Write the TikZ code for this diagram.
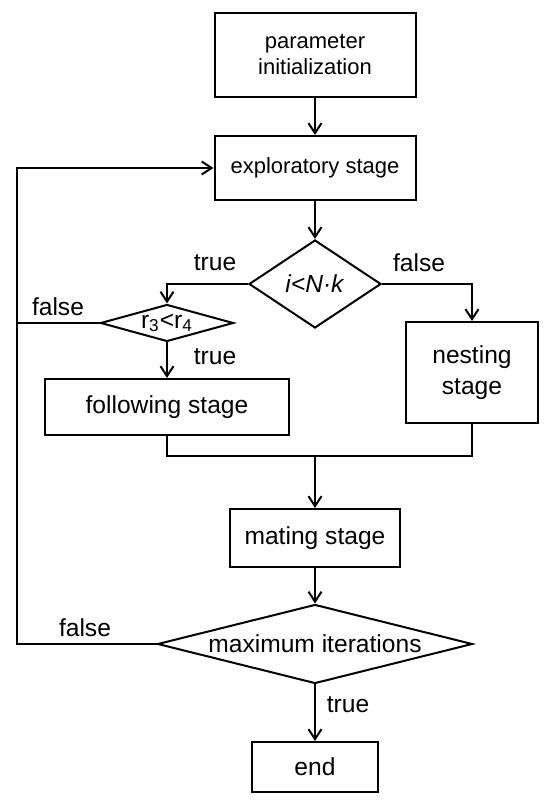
\documentclass[tikz,border=0pt]{standalone}
\usepackage{fontspec}
\setmainfont{Liberation Sans}
\usetikzlibrary{arrows.meta,shapes.geometric,calc}

\tikzset{
  stagebox/.style={draw,line width=1pt,inner sep=0pt,align=center},
  decision/.style={draw,diamond,line width=1pt,inner sep=0pt},
  flow/.style={line width=1pt},
  arr/.style={flow,-{Straight Barb[length=5pt,width=6.5pt]}},
}

\begin{document}
\begin{tikzpicture}[x=0.5pt,y=0.5pt,every node/.style={font=\fontsize{12.3}{15.5}\selectfont}]
\useasboundingbox (0,0) rectangle (550,804);
% stages
\node[stagebox,minimum width=100.5pt,minimum height=42pt,font=\fontsize{11}{13}\selectfont] (init) at (315,749) {parameter\\initialization};
\node[stagebox,minimum width=100.5pt,minimum height=32pt,font=\fontsize{11}{13}\selectfont] (explore) at (315,636) {exploratory stage};
\node[decision,minimum width=66pt,minimum height=44pt,label={[name=d1txt]center:\textit{i<N·k}}] (d1) at (315,520) {};
\node[decision,minimum width=66.5pt,minimum height=18.5pt,label={[name=d2txt]center:r\textsubscript{3}<r\textsubscript{4}}] (d2) at (167,481) {};
\node[stagebox,minimum width=122pt,minimum height=28pt] (follow) at (167,397) {following stage};
\node[stagebox,minimum width=66pt,minimum height=50.5pt] (nest) at (472,431.5) {nesting\\stage};
\node[stagebox,minimum width=85pt,minimum height=29pt] (mating) at (315,266) {mating stage};
\node[decision,minimum width=157.5pt,minimum height=39.5pt,label={[name=d3txt]center:maximum iterations}] (d3) at (315,160) {};
\node[stagebox,minimum width=63pt,minimum height=25pt] (end) at (315,37) {end};
\coordinate (loop) at (17,0);
\coordinate (merge) at (315,348);
% labels
\node (t1) at (215,541) {true};
\node (f1) at (419,541) {false};
\node (f2) at (58,497) {false};
\node (t2) at (215,447) {true};
\node (f3) at (85,176) {false};
\node (t3) at (348,99) {true};
% connectors
\draw[arr] (init) -- (explore);
\draw[arr] (explore) -- (d1);
\draw[arr] (d1.west) -| (d2.north);
\draw[arr] (d1.east) -| (nest.north);
\draw[arr] (d2) -- (follow);
\draw[flow] (d2.west) -- (d2.west -| loop);
\draw[flow] (follow.south) |- (merge) -| (nest.south);
\draw[arr] (merge) -- (mating);
\draw[arr] (mating) -- (d3);
\draw[arr] (d3) -- (end);
\draw[arr] (d3.west) -- (d3.west -| loop) |- (explore.west);
\end{tikzpicture}
\end{document}
